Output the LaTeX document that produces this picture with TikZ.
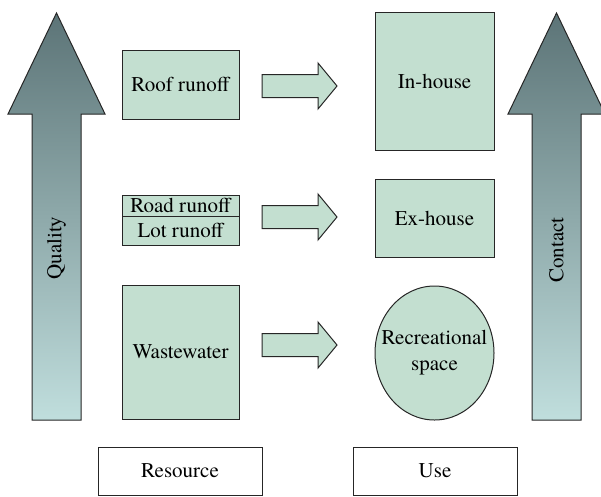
\documentclass[tikz,border=0pt]{standalone}
\usepackage{fontspec}
\setmainfont{texgyretermes}[Extension=.otf, UprightFont=*-regular, BoldFont=*-bold]
\usetikzlibrary{positioning,shapes.geometric}
\definecolor{boxfill}{RGB}{195,223,208}
\definecolor{arrowtop}{RGB}{92,116,119}
\definecolor{arrowbot}{RGB}{192,222,221}
\tikzstyle{water}=[rectangle, draw=black!85, fill=boxfill, line width=1pt, outer sep=0pt, inner sep=0pt, font=\fontsize{21}{26}\selectfont]
\tikzstyle{caption}=[rectangle, draw=black!85, line width=1pt, minimum width=164pt, minimum height=48pt, font=\fontsize{21}{26}\selectfont]
\tikzstyle{flow}=[draw=black!85, fill=boxfill, line width=1pt, line join=miter]
\tikzstyle{bigarrow}=[draw=black!85, line width=1pt, top color=arrowtop, bottom color=arrowbot]
\tikzstyle{lab}=[font=\fontsize{21}{26}\selectfont]

\begin{document}
\begin{tikzpicture}[x=1pt, y=-1pt]
      \useasboundingbox (0,0) rectangle (601,496);
      % big arrows
      \foreach \c in {56.5,556.5}
        \shade[bigarrow] (\c-24.5,420) -- (\c-24.5,114) -- (\c-48.5,114) -- (\c,13)
          -- (\c+48.5,114) -- (\c+24.5,114) -- (\c+24.5,420) -- cycle;
      \node at (56.5,248) [lab, rotate=90] (quality) {Quality};
      \node at (556.5,250) [lab, rotate=90] (contact) {Contact};
      %
      \node at (180.5,84.5) [water, minimum width=117pt, minimum height=69pt] (roof) {Roof runoff};
      \node at (180.5,205.5) [water, minimum width=117pt, minimum height=21pt] (road) {Road runoff};
      \node [water, minimum width=117pt, minimum height=29pt, below=0pt of road] (lot) {Lot runoff};
      \node at (180.5,352) [water, minimum width=117pt, minimum height=134pt] (waste) {Wastewater};
      %
      \node at (434.5,81) [water, minimum width=119pt, minimum height=138pt] (inhouse) {In-house};
      \node at (434.5,218) [water, minimum width=119pt, minimum height=78pt] (exhouse) {Ex-house};
      \node at (434.5,353) [water, ellipse, minimum width=119pt, minimum height=134pt] (recr) {};
      \node at (recr) [lab, align=center] (recrtext) {Recreational\\space};
      %
      \foreach \y in {86,217,345}
        \draw[flow] (262,\y-11.5) -- (318,\y-11.5) -- (318,\y-23) -- (337,\y)
          -- (318,\y+23) -- (318,\y+11.5) -- (262,\y+11.5) -- cycle;
      %
      \node at (180,471) [caption] (resource) {Resource};
      \node at (435,471) [caption] (use) {Use};
\end{tikzpicture}
\end{document}
